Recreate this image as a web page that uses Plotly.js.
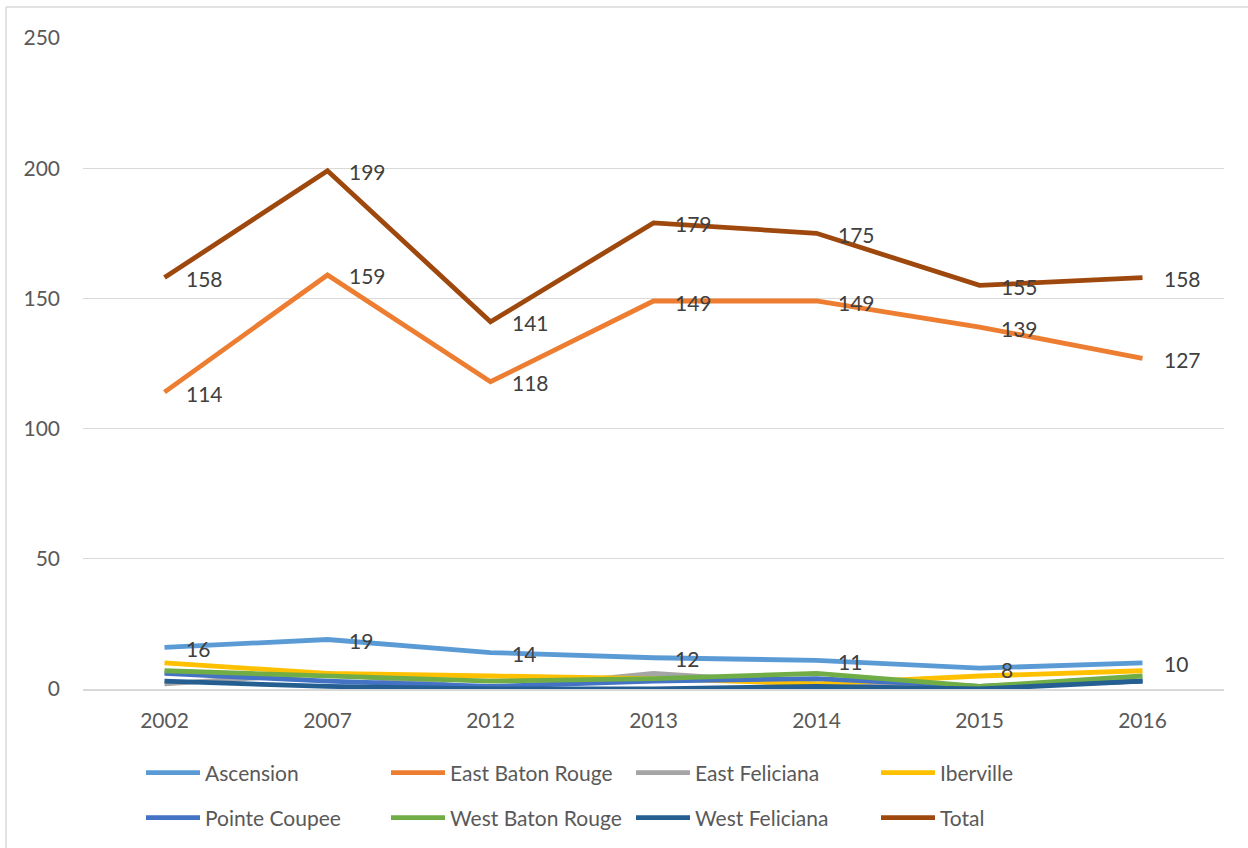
<!DOCTYPE html>
<html>
<head>
<meta charset="utf-8">
<script src="https://cdn.plot.ly/plotly-3.0.1.min.js"></script>
<style>html,body{margin:0;padding:0;background:#fff;}#chart{width:1248px;height:848px;}</style>
</head>
<body>
<div id="chart"></div>
<script>
const years = ["2002","2007","2012","2013","2014","2015","2016"];
const ascension = [16,19,14,12,11,8,10];
const eastBatonRouge = [114,159,118,149,149,139,127];
const eastFeliciana = [2,6,0,6,2,1,3];
const iberville = [10,6,5,4,2,5,7];
const pointeCoupee = [6,3,1,3,4,1,3];
const westBatonRouge = [7,5,3,4,6,1,5];
const westFeliciana = [3,1,0,0,1,0,3];
const total = [158,199,141,179,175,155,158];

const seriesNames = ["Ascension","East Baton Rouge","East Feliciana","Iberville","Pointe Coupee","West Baton Rouge","West Feliciana","Total"];
const seriesValues = [ascension,eastBatonRouge,eastFeliciana,iberville,pointeCoupee,westBatonRouge,westFeliciana,total];
const seriesColors = ["#5b9bd5","#ed7d31","#a5a5a5","#ffc000","#4472c4","#70ad47","#255e91","#9e480e"];
const labeledSeries = [0,1,7];

const FONT = "Lato, 'Open Sans', sans-serif";
const PH = 651, PW = 1141;

const traces = seriesNames.map((n,i)=>({
  type:"scatter", mode:"lines", name:n, x:years, y:seriesValues[i],
  line:{color:seriesColors[i], width:4.8},
  legend: i < 4 ? "legend" : "legend2",
  hoverinfo:"x+y+name"
}));

const annotations = [];
labeledSeries.forEach(si=>{
  years.forEach((yr,j)=>{
    annotations.push({
      x:j, y:seriesValues[si][j], xref:"x", yref:"y",
      text:String(seriesValues[si][j]), showarrow:false,
      xanchor:"left", yanchor:"middle", xshift:19, yshift:-1,
      font:{family:FONT, size:21, color:"#404040"}
    });
  });
});

const legendCommon = {
  orientation:"h", xanchor:"left", yanchor:"middle",
  entrywidth:176, entrywidthmode:"pixels", itemwidth:54,
  font:{family:FONT, size:21, color:"#595959"}, bgcolor:"rgba(0,0,0,0)"
};

const layout = {
  width:1248, height:848,
  paper_bgcolor:"#fff", plot_bgcolor:"#fff",
  margin:{l:83, r:24, t:38, b:159, autoexpand:false},
  showlegend:true,
  font:{family:FONT, color:"#595959", size:21},
  xaxis:{
    type:"category", range:[-0.5,6.5], showgrid:false, zeroline:false,
    showline:true, linecolor:"#d9d9d9", linewidth:1.5,
    ticks:"", ticklabelstandoff:12,
    tickfont:{family:FONT, size:21, color:"#595959"}, fixedrange:true
  },
  yaxis:{
    range:[0,250], dtick:50, showgrid:true, gridcolor:"#d9d9d9", gridwidth:1.2,
    zeroline:false, showline:false, ticks:"", ticklabelstandoff:22,
    tickfont:{family:FONT, size:21, color:"#595959"}, fixedrange:true
  },
  legend: Object.assign({x:(141-83)/PW, y:-84/PH}, legendCommon),
  legend2: Object.assign({x:(141-83)/PW, y:-129/PH}, legendCommon),
  annotations:annotations,
  shapes:[
    {type:"line", xref:"paper", yref:"paper", x0:-77/PW, x1:1165/PW, y0:1+31/PH, y1:1+31/PH, line:{color:"#d9d9d9", width:1.5}},
    {type:"line", xref:"paper", yref:"paper", x0:-77/PW, x1:-77/PW, y0:1+31/PH, y1:-159/PH, line:{color:"#d9d9d9", width:1.5}}
  ]
};

Plotly.newPlot("chart", traces, layout, {displayModeBar:false, staticPlot:true});
</script>
</body>
</html>
